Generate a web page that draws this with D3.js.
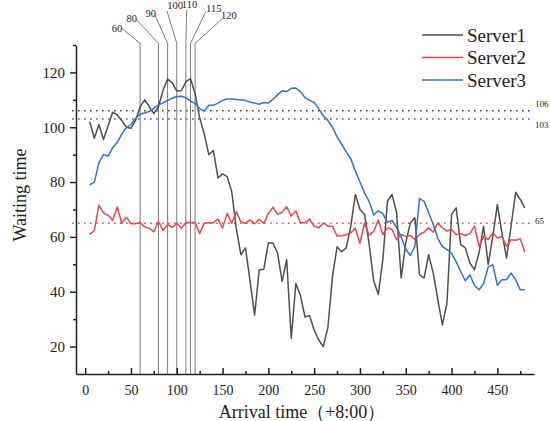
<!DOCTYPE html>
<html>
<head>
<meta charset="utf-8">
<script src="https://cdn.jsdelivr.net/npm/d3@7"></script>
<style>
body { margin: 0; background: #fff; }
text { font-family: "Liberation Serif", "Times New Roman", serif; fill: #222; }
</style>
</head>
<body>
<script>
// Arrival times (minutes after 8:00)
var times = [5, 10, 15, 20, 25, 30, 35, 40, 45, 50, 55, 60, 65, 70, 75, 80, 85, 90, 95, 100,
    105, 110, 115, 120, 125, 130, 135, 140, 145, 150, 155, 160, 165, 170, 175, 180, 185, 190, 195, 200,
    205, 210, 215, 220, 225, 230, 235, 240, 245, 250, 255, 260, 265, 270, 275, 280, 285, 290, 295, 300,
    305, 310, 315, 320, 325, 330, 335, 340, 345, 350, 355, 360, 365, 370, 375, 380, 385, 390, 395, 400,
    405, 410, 415, 420, 425, 430, 435, 440, 445, 450, 455, 460, 465, 470, 475, 480];

// Waiting time per server
var server1 = [102, 96, 101, 95.5, 100.5, 105.5, 104.5, 102.5, 100, 99.6, 102.5, 107.4, 110, 107.5, 105, 107.4, 113.5, 117.6, 116.2, 113.3,
    113.3, 116.6, 117.7, 112.3, 103.5, 97.5, 90, 91.5, 81.5, 83, 82, 76.5, 63, 53.5, 56, 44, 31.5, 48, 48.2, 57.8,
    57.8, 54.2, 43.8, 51.7, 23, 43, 38.6, 30.8, 31.3, 26, 22.4, 20, 27, 45.5, 56.4, 54.6, 56, 63.9, 75.5, 70,
    68.2, 57.5, 44, 39, 51.7, 73, 75.5, 68.8, 45, 57.8, 65.1, 67, 46.2, 45, 53.5, 46.8, 37.1, 27.9, 35.9, 68.2,
    70.6, 57.2, 56, 50.5, 48, 54.2, 63.9, 49.9, 60.2, 71.8, 61.5, 52.3, 63.9, 76.3, 73.7, 70.6];

var server2 = [61, 62.3, 71.6, 68.8, 67.9, 66.1, 70.9, 65, 67.2, 64.8, 64.8, 65.3, 63.6, 63.2, 61.8, 65.7, 62.3, 64.5, 63.5, 65,
    63.2, 65.2, 65.3, 65.3, 61.2, 65, 65.2, 65.2, 66.5, 63.2, 68.6, 65, 69.2, 65.5, 65, 66.2, 64.8, 66.4, 65, 68.5,
    70.8, 68.2, 69, 71, 67.6, 69.5, 65.2, 65.2, 66.5, 63.9, 63.3, 65.1, 63.9, 63.9, 60.3, 60.4, 60.8, 61.5, 63.2, 57.7,
    65, 60.6, 62, 66.2, 60.9, 63.3, 62.7, 59, 60.9, 60.2, 60.5, 59, 60.9, 61.7, 63.3, 61.7, 65.1, 63.3, 62.1, 62.7,
    60.9, 61.2, 60.5, 61.2, 63.9, 56.6, 60.2, 59, 61.5, 59.6, 60.2, 56.6, 59, 58.8, 59.3, 54.4];

var server3 = [79, 80, 87, 90, 89.5, 92.5, 94.5, 97.5, 99.8, 101, 103.2, 104.8, 105.2, 105.8, 107, 108.2, 108.9, 109.8, 110.6, 111.2,
    111.3, 110.8, 109.5, 108.7, 106.8, 105.9, 108, 108, 108.8, 109.8, 110.3, 110.3, 110.1, 110, 109.8, 109.2, 108.8, 108.4, 109, 108.8,
    110.2, 111.8, 113.3, 113, 114.2, 114.3, 113, 110.8, 109.8, 109, 106.8, 104.2, 102.5, 100, 96.5, 93.8, 91, 88.5, 84, 80,
    76, 73, 68, 69.5, 68.5, 65.3, 66, 63.5, 60, 55.5, 53.2, 56.6, 74, 73, 68.8, 64.5, 59.5, 56.5, 55.4, 54,
    51, 47.4, 44, 46.2, 42.3, 40.7, 43, 49, 49.9, 42.4, 44.4, 44.4, 46.8, 44.4, 40.7, 40.7];

var seriesNames = ["Server1", "Server2", "Server3"];
var seriesColors = ["#4f4f4f", "#e5484d", "#2f72d2"];

// Reference levels (dotted) and marked arrival times
var refValues = [106, 103, 65];
var refColors = ["#4a4228", "#4f4fe0", "#e05258"];
var markerTimes = [60, 80, 90, 100, 110, 115, 120];

// Axis ticks
var xMajor = [0, 50, 100, 150, 200, 250, 300, 350, 400, 450];
var xMinor = [25, 75, 125, 175, 225, 275, 325, 375, 425, 475];
var yMajor = [20, 40, 60, 80, 100, 120];
var yMinor = [30, 50, 70, 90, 110, 130];

// layout of the marker labels (text centre) and where their leader lines start
var markerLabelXY = [[117, 31.5], [131.7, 21.5], [150.7, 17], [175, 9.3], [189.5, 8.3], [213.8, 11.7], [228.8, 19.3]];
var markerLeadXY = [[121.7, 28.3], [136, 19.3], [155, 15], [167, 11], [186.7, 10], [205.7, 11.7], [221.7, 19.3]];
var elbowY = 43.3;

var width = 550, height = 421;

let svg = d3.select("body").append("svg")
    .attr("width", width)
    .attr("height", height);

let xScale = d3.scaleLinear().domain([-10, 490]).range([76, 534]);
let yScale = d3.scaleLinear().domain([10, 130]).range([374, 45]);

// reference dotted lines
refValues.forEach(function (v, i) {
    svg.append("line")
        .attr("x1", 72).attr("x2", 530)
        .attr("y1", yScale(v)).attr("y2", yScale(v))
        .attr("stroke", refColors[i])
        .attr("stroke-width", 1.6)
        .attr("stroke-dasharray", "1.6,4.4");
});
var refDy = [-3.5, 8.5, 0.5];
refValues.forEach(function (v, i) {
    svg.append("text")
        .attr("x", 535)
        .attr("y", yScale(v) + refDy[i])
        .attr("font-size", "9px")
        .text(v);
});

// marked arrival times: vertical lines + leaders + labels
markerTimes.forEach(function (t, i) {
    svg.append("line")
        .attr("x1", xScale(t)).attr("x2", xScale(t))
        .attr("y1", elbowY).attr("y2", yScale(10))
        .attr("stroke", "#7a7a7a").attr("stroke-width", 1);
    svg.append("line")
        .attr("x1", markerLeadXY[i][0]).attr("y1", markerLeadXY[i][1])
        .attr("x2", xScale(t)).attr("y2", elbowY)
        .attr("stroke", "#7a7a7a").attr("stroke-width", 1);
    svg.append("text")
        .attr("x", markerLabelXY[i][0])
        .attr("y", markerLabelXY[i][1])
        .attr("text-anchor", "middle")
        .attr("font-size", "10.5px")
        .text(t);
});

// series lines
let line = d3.line()
    .x(function (d, i) { return xScale(times[i]); })
    .y(function (d) { return yScale(d); });

[server1, server2, server3].forEach(function (s, i) {
    svg.append("path")
        .datum(s)
        .attr("d", line)
        .attr("fill", "none")
        .attr("stroke", seriesColors[i])
        .attr("stroke-width", 1.5)
        .attr("stroke-linejoin", "round");
});

// x axis (ticks point inward)
svg.append("g")
    .attr("transform", "translate(0," + yScale(10) + ")")
    .call(d3.axisBottom(xScale).tickValues(xMinor).tickSizeInner(-3).tickSizeOuter(0).tickFormat(""))
    .call(g => g.select(".domain").remove());
svg.append("g")
    .attr("class", "axis")
    .attr("transform", "translate(0," + yScale(10) + ")")
    .call(d3.axisBottom(xScale).tickValues(xMajor).tickSizeInner(-6).tickSizeOuter(0).tickPadding(11))
    .call(g => g.selectAll("text").attr("font-size", "14px"))
    .call(g => g.append("text")
        .attr("x", 302)
        .attr("y", 44)
        .attr("text-anchor", "middle")
        .attr("font-size", "18px")
        .attr("fill", "#222")
        .text("Arrival time（+8:00）"));

// y axis (ticks point outward)
svg.append("g")
    .attr("transform", "translate(" + xScale(-10) + ",0)")
    .call(d3.axisLeft(yScale).tickValues(yMinor).tickSizeInner(3).tickSizeOuter(0).tickFormat(""))
    .call(g => g.select(".domain").remove());
svg.append("g")
    .attr("class", "axis")
    .attr("transform", "translate(" + xScale(-10) + ",0)")
    .call(d3.axisLeft(yScale).tickValues(yMajor).tickSizeInner(6).tickSizeOuter(0).tickPadding(5))
    .call(g => g.selectAll("text").attr("font-size", "15px"))
    .call(g => g.append("text")
        .attr("transform", "rotate(-90)")
        .attr("x", -195)
        .attr("y", -50)
        .attr("text-anchor", "middle")
        .attr("font-size", "18px")
        .attr("fill", "#222")
        .text("Waiting time"));

svg.selectAll(".axis .domain, .tick line").attr("stroke", "#222").attr("stroke-width", 1.5);
svg.selectAll(".axis text").attr("font-family", "'Liberation Serif', 'Times New Roman', serif").attr("fill", "#222");

// legend
let legend = svg.append("g");
var legendY = [35, 57.5, 80];
seriesNames.forEach(function (name, i) {
    legend.append("line")
        .attr("x1", 422).attr("x2", 463)
        .attr("y1", legendY[i]).attr("y2", legendY[i])
        .attr("stroke", seriesColors[i]).attr("stroke-width", 1.5);
    legend.append("text")
        .attr("x", 467)
        .attr("y", legendY[i])
        .attr("dy", "0.35em")
        .attr("font-size", "19px")
        .text(name);
});
</script>
</body>
</html>
